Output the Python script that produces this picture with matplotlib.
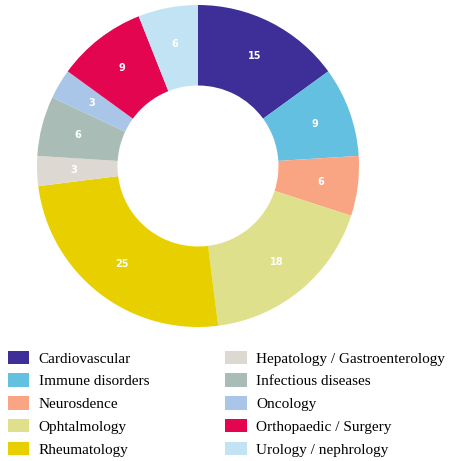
import matplotlib.pyplot as plt

categories = ["Cardiovascular", "Immune disorders", "Neurosdence", "Ophtalmology",
              "Rheumatology", "Hepatology / Gastroenterology", "Infectious diseases",
              "Oncology", "Orthopaedic / Surgery", "Urology / nephrology"]
values = [15, 9, 6, 18, 25, 3, 6, 3, 9, 6]
colors = ["#3d2f97", "#64c0e0", "#f9a482", "#dfe08c", "#e8d000",
          "#ded8d3", "#a9bdb6", "#a9c6e8", "#e3054f", "#c1e3f4"]

fig = plt.figure(figsize=(4.49, 4.61), dpi=100)
ax = fig.add_axes([37 / 449, 1 - 327 / 461, 322 / 449, 322 / 461])

total = sum(values)
wedges, texts, autotexts = ax.pie(
    values, colors=colors, startangle=90, counterclock=False,
    autopct=lambda p: f"{round(p * total / 100):d}", pctdistance=0.77,
    wedgeprops=dict(width=0.5, linewidth=0),
    textprops=dict(color="white", fontsize=7, fontweight="bold"))
ax.set_xlim(-1, 1)
ax.set_ylim(-1, 1)
ax.set_aspect("equal")

fig.legend(wedges, categories, ncol=2, loc="upper left",
           bbox_to_anchor=(-0.006, 1 - 340 / 461), frameon=False,
           prop=dict(family="Liberation Serif", size=11),
           handlelength=1.4, handleheight=1.0, handletextpad=0.6,
           labelspacing=0.5, columnspacing=5.0, borderaxespad=0.3)

fig.savefig("out.png", dpi=100)
